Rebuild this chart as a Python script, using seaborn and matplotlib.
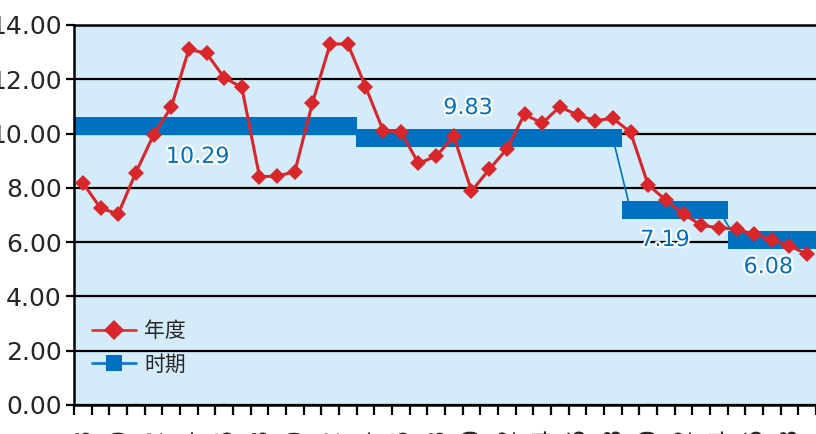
import numpy as np
import pandas as pd
import matplotlib
matplotlib.use("Agg")
import matplotlib.pyplot as plt
import matplotlib.patheffects as pe
from matplotlib.lines import Line2D
import seaborn as sns

sns.set_style("white")
plt.rcParams['font.family'] = ['DejaVu Sans', 'Noto Sans CJK SC']

# data
years = list(range(1978, 2020))
annual = [8.19, 7.25, 7.04, 8.56, 9.95, 10.97, 13.10, 12.96, 12.06, 11.70,
          8.41, 8.43, 8.60, 11.14, 13.30, 13.30, 11.73, 10.11, 10.07, 8.90,
          9.17, 9.90, 7.88, 8.68, 9.43, 10.71, 10.38, 10.99, 10.68, 10.48,
          10.56, 10.05, 8.11, 7.55, 7.04, 6.62, 6.53, 6.48, 6.29, 6.08,
          5.86, 5.56]
period_lengths = [16, 15, 6, 5]
period_means = [10.29, 9.83, 7.19, 6.08]
series_names = ['年度', '时期']

# label placement relative to each period's centre (dx in years, dy in value)
label_offsets = [(-1.0, -1.15), (-1.2, 1.11), (-0.55, -1.11), (-0.2, -1.0)]

RED = '#D9262B'
BLUE = '#0070C0'
BG = '#D4ECF9'

idx = np.arange(len(years))
df = pd.DataFrame({
    'idx': idx,
    'year': years,
    'annual': annual,
    'period': np.repeat(period_means, period_lengths),
})

fig = plt.figure(figsize=(8.16, 4.34), dpi=100)
ax = fig.add_axes([74 / 816, 29 / 434, 742 / 816, 380 / 434])
ax.set_facecolor(BG)

sns.lineplot(data=df, x='idx', y='period', ax=ax, color=BLUE, lw=1.2,
             marker='s', markersize=13, markeredgewidth=0, zorder=2)
sns.lineplot(data=df, x='idx', y='annual', ax=ax, color=RED, lw=2.2,
             marker='D', markersize=8, markeredgewidth=0, zorder=3)

# period labels
starts = np.cumsum([0] + period_lengths[:-1])
for s, n, m, (dx, dy) in zip(starts, period_lengths, period_means, label_offsets):
    cx = s + (n - 1) / 2 + dx
    ax.text(cx, m + dy, f'{m:.2f}', color=BLUE, fontsize=16,
            ha='center', va='center', zorder=5,
            path_effects=[pe.withStroke(linewidth=3, foreground='white')])

ax.set_xlim(-0.5, len(years) - 0.5)
ax.set_ylim(0, 14)
ax.set_yticks(np.arange(0, 15, 2))
ax.set_yticklabels([f'{v:.2f}' for v in np.arange(0, 15, 2)])
ax.grid(axis='y', color='black', lw=1.6)
ax.set_axisbelow(True)

# category boundaries as tick marks, year labels on every other year
ax.set_xticks(np.arange(-0.5, len(years), 1))
ax.set_xticklabels([])
ax.set_xticks(idx[::2], minor=True)
ax.set_xticklabels([str(y) for y in years[::2]], minor=True, rotation=90)
ax.tick_params(axis='x', which='major', length=7, width=1.6, color='black',
               direction='out', bottom=True)
ax.tick_params(axis='x', which='minor', length=0, pad=16, labelsize=17,
               bottom=True)
ax.tick_params(axis='y', length=6, width=1.6, color='black', direction='out',
               labelsize=18, pad=3, left=True)
ax.set_xlabel('')
ax.set_ylabel('')

for side in ['left', 'bottom', 'top']:
    ax.spines[side].set_color('black')
    ax.spines[side].set_linewidth(1.8)
ax.spines['right'].set_visible(False)

handles = [
    Line2D([], [], color='#EE3333', lw=2, marker='D', markersize=10,
           markeredgewidth=0, markerfacecolor=RED),
    Line2D([], [], color='#1A7ACB', lw=2, marker='s', markersize=11,
           markeredgewidth=0, markerfacecolor=BLUE),
]
leg = fig.legend(handles, series_names, loc='upper left',
                 bbox_to_anchor=(92 / 816, 1 - 320 / 434), frameon=False,
                 prop={'family': ['Noto Sans CJK SC'], 'size': 15},
                 handlelength=2.1, handletextpad=0.4, labelspacing=0.55,
                 borderpad=0, borderaxespad=0)

fig.savefig('out.png', dpi=100)
